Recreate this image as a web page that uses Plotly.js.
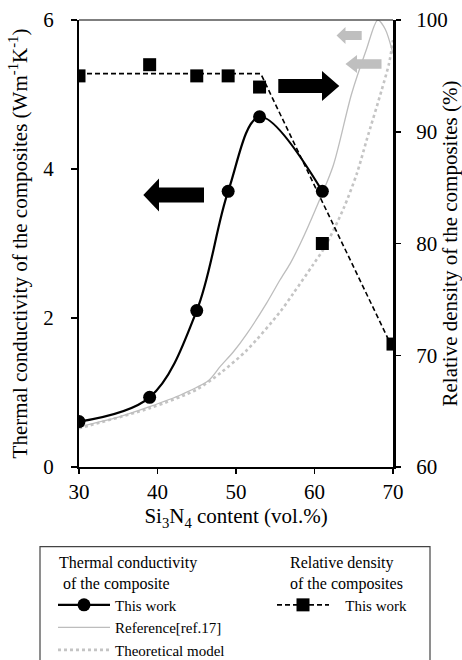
<!DOCTYPE html>
<html><head><meta charset="utf-8">
<script src="https://cdn.plot.ly/plotly-3.0.1.min.js"></script>
<style>html,body{margin:0;padding:0;background:#fff}#chart{width:462px;height:660px}</style>
</head><body><div id="chart"></div>
<script>
// ---- data ----
const contentWork = [30, 39, 45, 49, 53, 61];
const conductivityWork = [0.61, 0.935, 2.1, 3.7, 4.7, 3.7];

const contentRef = [30, 35, 39, 43, 46.5, 48, 49.7, 51.4, 53.9, 55.6, 56.9, 58.2, 60.1, 62.4, 64.7, 66.6, 68.05, 69, 70];
const conductivityRef = [0.54, 0.67, 0.81, 0.97, 1.16, 1.35, 1.55, 1.79, 2.2, 2.51, 2.73, 3.0, 3.45, 4.05, 5.0, 5.6, 6.0, 5.88, 5.55];

const contentModel = [30, 39, 45, 48, 51.4, 55.6, 57.3, 59.85, 61.3, 63.7, 65.4, 66.65, 68.56, 69.5, 70];
const conductivityModel = [0.52, 0.79, 1.04, 1.26, 1.57, 2.08, 2.33, 2.72, 2.95, 3.47, 3.94, 4.39, 5.06, 5.42, 5.73];

const contentDensity = [30, 39, 45, 49, 53, 61, 70];
const densityWork = [95, 96, 95, 95, 94, 80, 71];
const densityTrendX = [30, 53.15, 69.7];
const densityTrendY = [95.2, 95.2, 71];

const xTicks = [30, 40, 50, 60, 70];
const yTicks = [0, 2, 4, 6];
const y2Ticks = [60, 70, 80, 90, 100];

const legendTitleK = '\u00A0Thermal conductivity<br>\u00A0\u00A0of the composite';
const legendTitleD = '\u00A0\u00A0\u00A0\u00A0Relative density<br>\u00A0\u00A0\u00A0\u00A0of the composites';

// ---- geometry helpers (plot area 79..393 x 20..467 px) ----
const L = 79, R = 393, T = 20, B = 467;
const px = x => (x - L) / (R - L);
const py = y => (B - y) / (B - T);
function arrow(tipX, tipY, baseX, tailX, headHalf, shaftHalf) {
  const p = [[tipX, tipY], [baseX, tipY - headHalf], [baseX, tipY - shaftHalf], [tailX, tipY - shaftHalf],
             [tailX, tipY + shaftHalf], [baseX, tipY + shaftHalf], [baseX, tipY + headHalf]];
  return 'M' + p.map(q => px(q[0]).toFixed(4) + ',' + py(q[1]).toFixed(4)).join(' L') + ' Z';
}

const font = "'Liberation Serif', 'Times New Roman', Times, serif";

const traces = [
  { x: contentModel, y: conductivityModel, mode: 'lines', name: 'Theoretical model',
    line: { color: '#c4c4c4', width: 2.6, dash: 'dot', shape: 'spline', smoothing: 0.8 }, legend: 'legend', legendrank: 3 },
  { x: contentRef, y: conductivityRef, mode: 'lines', name: 'Reference[ref.17]',
    line: { color: '#bdbdbd', width: 1.3, shape: 'spline', smoothing: 0.8 }, legend: 'legend', legendrank: 2 },
  { x: contentWork, y: conductivityWork, mode: 'lines+markers', name: 'This work',
    line: { color: '#000', width: 2.2, shape: 'spline', smoothing: 1 },
    marker: { symbol: 'circle', size: 13, color: '#000' }, legend: 'legend', legendrank: 1 },
  { x: densityTrendX, y: densityTrendY, yaxis: 'y2', mode: 'lines', showlegend: false,
    line: { color: '#000', width: 1.6, dash: '5px,3px' } },
  { x: contentDensity, y: densityWork, yaxis: 'y2', mode: 'markers', showlegend: false,
    marker: { symbol: 'square', size: 13, color: '#000' } },
  { x: [null], y: [null], yaxis: 'y2', mode: 'lines+markers', name: '\u00A0\u00A0\u00A0This work', legend: 'legend2',
    line: { color: '#000', width: 1.6, dash: '5px,3px' }, marker: { symbol: 'square', size: 13, color: '#000' } }
];

const shapes = [
  { type: 'line', xref: 'paper', yref: 'paper', x0: 0, x1: 1, y0: 1, y1: 1, line: { color: '#000', width: 1.2 } },
  { type: 'path', xref: 'paper', yref: 'paper', path: arrow(143.3, 195, 159, 204, 16.5, 7.5), fillcolor: '#000', line: { width: 0 } },
  { type: 'path', xref: 'paper', yref: 'paper', path: arrow(339.3, 86, 322, 278.3, 15, 7), fillcolor: '#000', line: { width: 0 } },
  { type: 'path', xref: 'paper', yref: 'paper', path: arrow(336.5, 35.5, 345.5, 361.7, 8.5, 4.5), fillcolor: '#bfbfbf', line: { width: 0 } },
  { type: 'path', xref: 'paper', yref: 'paper', path: arrow(345.5, 64, 357, 381.5, 9, 4.7), fillcolor: '#bfbfbf', line: { width: 0 } },
  { type: 'rect', xref: 'paper', yref: 'paper', x0: px(40), x1: px(430), y0: py(546.7), y1: py(720),
    line: { color: '#444', width: 1.2 }, fillcolor: 'rgba(0,0,0,0)' }
];

const layout = {
  width: 462, height: 660,
  margin: { l: L, r: 462 - R, t: T, b: 660 - B, pad: 0, autoexpand: false },
  paper_bgcolor: '#fff', plot_bgcolor: '#fff',
  font: { family: font, size: 21, color: '#000' },
  showlegend: true,
  xaxis: {
    range: [30, 70], tickvals: xTicks, ticktext: xTicks.map(String), ticks: 'outside', ticklen: 5, tickwidth: 1.5,
    tickcolor: '#000', showline: true, linewidth: 2, linecolor: '#000', showgrid: false, zeroline: false,
    tickfont: { family: font, size: 21, color: '#000' }, ticklabelstandoff: 0,
    title: { text: 'Si<sub>3</sub>N<sub>4</sub> content (vol.%)', font: { family: font, size: 21, color: '#000' }, standoff: 1 }
  },
  yaxis: {
    range: [0, 6], tickvals: yTicks, ticks: 'outside', ticklen: 6, tickwidth: 1.5, tickcolor: '#000',
    showline: true, linewidth: 2, linecolor: '#000', showgrid: false, zeroline: false,
    tickfont: { family: font, size: 21, color: '#000' }, ticklabelstandoff: 13,
    title: { text: 'Thermal conductivity of the composites (Wm<sup>-1</sup>K<sup>-1</sup>)', font: { family: font, size: 21, color: '#000' }, standoff: 10 }
  },
  yaxis2: {
    range: [60, 100], tickvals: y2Ticks, overlaying: 'y', side: 'right', ticks: 'outside', ticklen: 5, tickwidth: 1.5,
    tickcolor: '#000', showline: true, linewidth: 3, linecolor: '#000', showgrid: false, zeroline: false,
    tickfont: { family: font, size: 21, color: '#000' }, ticklabelstandoff: 11,
    title: { text: 'Relative density of the composites (%)', font: { family: font, size: 21, color: '#000' }, standoff: 0 }
  },
  legend: {
    x: px(53), y: py(547), xanchor: 'left', yanchor: 'top', orientation: 'v', traceorder: 'normal',
    bgcolor: 'rgba(0,0,0,0)', borderwidth: 0, itemwidth: 52, tracegroupgap: 0,
    font: { family: font, size: 15, color: '#000' },
    title: { text: legendTitleK, side: 'top', font: { family: font, size: 16, color: '#000' } }
  },
  legend2: {
    x: px(272), y: py(547), xanchor: 'left', yanchor: 'top', orientation: 'v',
    bgcolor: 'rgba(0,0,0,0)', borderwidth: 0, itemwidth: 52,
    font: { family: font, size: 15, color: '#000' },
    title: { text: legendTitleD, side: 'top', font: { family: font, size: 16, color: '#000' } }
  },
  shapes: shapes
};

Plotly.newPlot('chart', traces, layout, { displayModeBar: false, staticPlot: true });
</script>
</body></html>
